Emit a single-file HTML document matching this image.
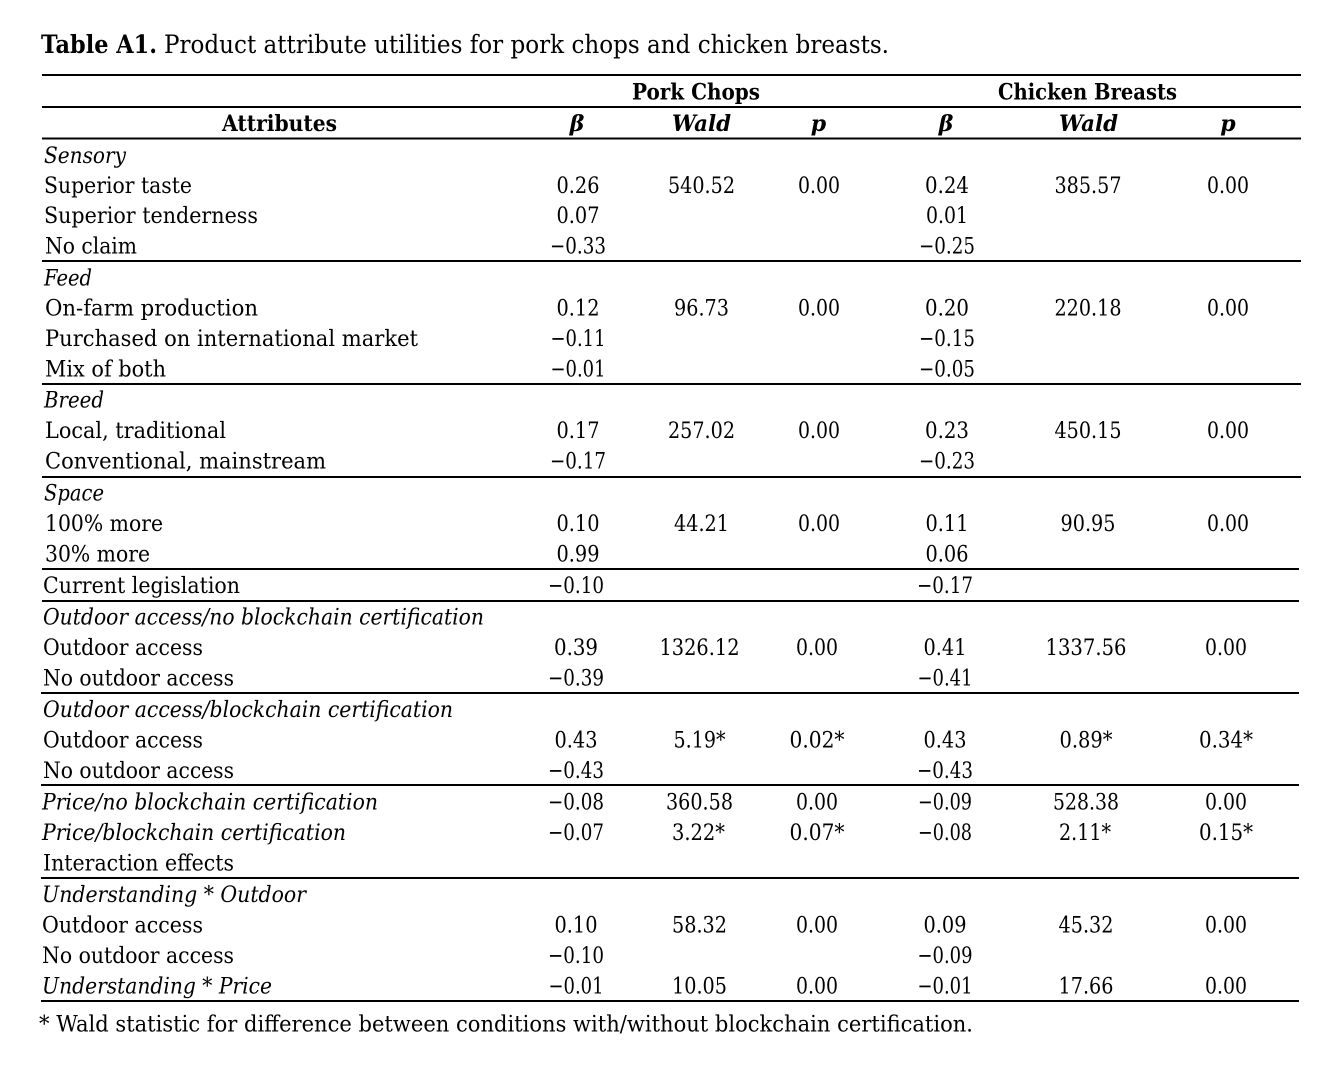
<!DOCTYPE html>
<html><head><meta charset="utf-8"><style>
html,body{margin:0;padding:0;background:#fff;}
svg{display:block;}
text{font-family:"DejaVu Serif","Liberation Serif",serif;fill:#000;}
.b{font-size:22.5px;}
.i{font-size:22.5px;font-style:italic;}
.n{font-size:22.5px;text-anchor:middle;}
.h{font-size:22px;font-weight:bold;text-anchor:middle;}
.hi{font-size:22px;font-weight:bold;font-style:italic;text-anchor:middle;}
</style></head><body>
<svg width="1342" height="1074" viewBox="0 0 1342 1074" xmlns="http://www.w3.org/2000/svg">
<rect width="1342" height="1074" fill="#fff"/>
<text x="41" y="53" style="font-size:25.5px;font-weight:bold" textLength="116" lengthAdjust="spacingAndGlyphs">Table A1.</text>
<text x="164" y="53" style="font-size:25.5px" textLength="725" lengthAdjust="spacingAndGlyphs">Product attribute utilities for pork chops and chicken breasts.</text>
<g fill="#000">
<rect x="42" y="74" width="1259" height="2"/>
<rect x="42" y="106" width="1259" height="2"/>
<rect x="42" y="137.5" width="1259" height="2"/>
<rect x="42" y="260" width="1259" height="2"/>
<rect x="42" y="383" width="1259" height="2"/>
<rect x="42" y="476" width="1259" height="2"/>
<rect x="42" y="568" width="1257" height="2"/>
<rect x="42" y="600" width="1257" height="2"/>
<rect x="41" y="692" width="1258" height="2"/>
<rect x="41" y="784" width="1258" height="2"/>
<rect x="41" y="877" width="1258" height="2"/>
<rect x="41" y="1000" width="1258" height="2"/>
</g>
<text class="h" x="696" y="99.5" textLength="128" lengthAdjust="spacingAndGlyphs">Pork Chops</text>
<text class="h" x="1087.5" y="99.5" textLength="179" lengthAdjust="spacingAndGlyphs">Chicken Breasts</text>
<text class="h" x="279.5" y="131" textLength="115" lengthAdjust="spacingAndGlyphs">Attributes</text>
<text class="hi" x="577" y="131">β</text>
<text class="hi" x="701.5" y="131" textLength="59" lengthAdjust="spacingAndGlyphs">Wald</text>
<text class="hi" x="818.5" y="131">p</text>
<text class="hi" x="946" y="131">β</text>
<text class="hi" x="1088.5" y="131" textLength="59" lengthAdjust="spacingAndGlyphs">Wald</text>
<text class="hi" x="1228" y="131">p</text>

<!-- labels -->
<text class="i" x="44" y="163" textLength="82" lengthAdjust="spacingAndGlyphs">Sensory</text>
<text class="b" x="44" y="193" textLength="148" lengthAdjust="spacingAndGlyphs">Superior taste</text>
<text class="b" x="44" y="223" textLength="214" lengthAdjust="spacingAndGlyphs">Superior tenderness</text>
<text class="b" x="45" y="253.5" textLength="92" lengthAdjust="spacingAndGlyphs">No claim</text>
<text class="i" x="44" y="285.5" textLength="48" lengthAdjust="spacingAndGlyphs">Feed</text>
<text class="b" x="45" y="315.5" textLength="213" lengthAdjust="spacingAndGlyphs">On-farm production</text>
<text class="b" x="45" y="346" textLength="373" lengthAdjust="spacingAndGlyphs">Purchased on international market</text>
<text class="b" x="45" y="376.5" textLength="121" lengthAdjust="spacingAndGlyphs">Mix of both</text>
<text class="i" x="44" y="407.5" textLength="60" lengthAdjust="spacingAndGlyphs">Breed</text>
<text class="b" x="45" y="438" textLength="181" lengthAdjust="spacingAndGlyphs">Local, traditional</text>
<text class="b" x="45" y="468.5" textLength="281" lengthAdjust="spacingAndGlyphs">Conventional, mainstream</text>
<text class="i" x="44" y="500.5" textLength="60" lengthAdjust="spacingAndGlyphs">Space</text>
<text class="b" x="45" y="531" textLength="118" lengthAdjust="spacingAndGlyphs">100% more</text>
<text class="b" x="45" y="561.5" textLength="105" lengthAdjust="spacingAndGlyphs">30% more</text>
<text class="b" x="43" y="593" textLength="197" lengthAdjust="spacingAndGlyphs">Current legislation</text>
<text class="i" x="43" y="624.5" textLength="441" lengthAdjust="spacingAndGlyphs">Outdoor access/no blockchain certification</text>
<text class="b" x="43" y="655" textLength="160" lengthAdjust="spacingAndGlyphs">Outdoor access</text>
<text class="b" x="43" y="685.5" textLength="191" lengthAdjust="spacingAndGlyphs">No outdoor access</text>
<text class="i" x="43" y="717" textLength="410" lengthAdjust="spacingAndGlyphs">Outdoor access/blockchain certification</text>
<text class="b" x="43" y="747.5" textLength="160" lengthAdjust="spacingAndGlyphs">Outdoor access</text>
<text class="b" x="43" y="778" textLength="191" lengthAdjust="spacingAndGlyphs">No outdoor access</text>
<text class="i" x="42" y="809.5" textLength="336" lengthAdjust="spacingAndGlyphs">Price/no blockchain certification</text>
<text class="i" x="42" y="840" textLength="304" lengthAdjust="spacingAndGlyphs">Price/blockchain certification</text>
<text class="b" x="43" y="870.5" textLength="191" lengthAdjust="spacingAndGlyphs">Interaction effects</text>
<text class="i" x="42" y="902" textLength="264" lengthAdjust="spacingAndGlyphs">Understanding * Outdoor</text>
<text class="b" x="42" y="932.5" textLength="161" lengthAdjust="spacingAndGlyphs">Outdoor access</text>
<text class="b" x="42" y="963" textLength="192" lengthAdjust="spacingAndGlyphs">No outdoor access</text>
<text class="i" x="42" y="993.5" textLength="230" lengthAdjust="spacingAndGlyphs">Understanding * Price</text>
<text class="b" x="39" y="1031.5" textLength="934" lengthAdjust="spacingAndGlyphs">* Wald statistic for difference between conditions with/without blockchain certification.</text>

<!-- numbers upper -->
<g>
<text class="n" x="578" y="193" textLength="43" lengthAdjust="spacingAndGlyphs">0.26</text>
<text class="n" x="701.5" y="193" textLength="67" lengthAdjust="spacingAndGlyphs">540.52</text>
<text class="n" x="819" y="193" textLength="42" lengthAdjust="spacingAndGlyphs">0.00</text>
<text class="n" x="947" y="193" textLength="44" lengthAdjust="spacingAndGlyphs">0.24</text>
<text class="n" x="1088" y="193" textLength="67" lengthAdjust="spacingAndGlyphs">385.57</text>
<text class="n" x="1228" y="193" textLength="42" lengthAdjust="spacingAndGlyphs">0.00</text>

<text class="n" x="578" y="223" textLength="43" lengthAdjust="spacingAndGlyphs">0.07</text>
<text class="n" x="947" y="223" textLength="42" lengthAdjust="spacingAndGlyphs">0.01</text>
<text class="n" x="578" y="253.5" textLength="56" lengthAdjust="spacingAndGlyphs">−0.33</text>
<text class="n" x="947" y="253.5" textLength="56" lengthAdjust="spacingAndGlyphs">−0.25</text>

<text class="n" x="578" y="315.5" textLength="43" lengthAdjust="spacingAndGlyphs">0.12</text>
<text class="n" x="701.5" y="315.5" textLength="55" lengthAdjust="spacingAndGlyphs">96.73</text>
<text class="n" x="819" y="315.5" textLength="42" lengthAdjust="spacingAndGlyphs">0.00</text>
<text class="n" x="947" y="315.5" textLength="44" lengthAdjust="spacingAndGlyphs">0.20</text>
<text class="n" x="1088" y="315.5" textLength="67" lengthAdjust="spacingAndGlyphs">220.18</text>
<text class="n" x="1228" y="315.5" textLength="42" lengthAdjust="spacingAndGlyphs">0.00</text>
<text class="n" x="578" y="346" textLength="55" lengthAdjust="spacingAndGlyphs">−0.11</text>
<text class="n" x="947" y="346" textLength="56" lengthAdjust="spacingAndGlyphs">−0.15</text>
<text class="n" x="578" y="376.5" textLength="55" lengthAdjust="spacingAndGlyphs">−0.01</text>
<text class="n" x="947" y="376.5" textLength="56" lengthAdjust="spacingAndGlyphs">−0.05</text>

<text class="n" x="578" y="438" textLength="43" lengthAdjust="spacingAndGlyphs">0.17</text>
<text class="n" x="701.5" y="438" textLength="67" lengthAdjust="spacingAndGlyphs">257.02</text>
<text class="n" x="819" y="438" textLength="42" lengthAdjust="spacingAndGlyphs">0.00</text>
<text class="n" x="947" y="438" textLength="44" lengthAdjust="spacingAndGlyphs">0.23</text>
<text class="n" x="1088" y="438" textLength="67" lengthAdjust="spacingAndGlyphs">450.15</text>
<text class="n" x="1228" y="438" textLength="42" lengthAdjust="spacingAndGlyphs">0.00</text>
<text class="n" x="578" y="468.5" textLength="56" lengthAdjust="spacingAndGlyphs">−0.17</text>
<text class="n" x="947" y="468.5" textLength="56" lengthAdjust="spacingAndGlyphs">−0.23</text>

<text class="n" x="578" y="531" textLength="43" lengthAdjust="spacingAndGlyphs">0.10</text>
<text class="n" x="701.5" y="531" textLength="55" lengthAdjust="spacingAndGlyphs">44.21</text>
<text class="n" x="819" y="531" textLength="42" lengthAdjust="spacingAndGlyphs">0.00</text>
<text class="n" x="947" y="531" textLength="43" lengthAdjust="spacingAndGlyphs">0.11</text>
<text class="n" x="1088" y="531" textLength="55" lengthAdjust="spacingAndGlyphs">90.95</text>
<text class="n" x="1228" y="531" textLength="42" lengthAdjust="spacingAndGlyphs">0.00</text>
<text class="n" x="578" y="561.5" textLength="43" lengthAdjust="spacingAndGlyphs">0.99</text>
<text class="n" x="947" y="561.5" textLength="43" lengthAdjust="spacingAndGlyphs">0.06</text>
</g>
<!-- numbers lower -->
<g>
<text class="n" x="576" y="593" textLength="56" lengthAdjust="spacingAndGlyphs">−0.10</text>
<text class="n" x="945" y="593" textLength="56" lengthAdjust="spacingAndGlyphs">−0.17</text>

<text class="n" x="576" y="655" textLength="44" lengthAdjust="spacingAndGlyphs">0.39</text>
<text class="n" x="699.5" y="655" textLength="80" lengthAdjust="spacingAndGlyphs">1326.12</text>
<text class="n" x="817" y="655" textLength="42" lengthAdjust="spacingAndGlyphs">0.00</text>
<text class="n" x="945" y="655" textLength="43" lengthAdjust="spacingAndGlyphs">0.41</text>
<text class="n" x="1086" y="655" textLength="81" lengthAdjust="spacingAndGlyphs">1337.56</text>
<text class="n" x="1226" y="655" textLength="42" lengthAdjust="spacingAndGlyphs">0.00</text>
<text class="n" x="576" y="685.5" textLength="56" lengthAdjust="spacingAndGlyphs">−0.39</text>
<text class="n" x="945" y="685.5" textLength="55" lengthAdjust="spacingAndGlyphs">−0.41</text>

<text class="n" x="576" y="747.5" textLength="43" lengthAdjust="spacingAndGlyphs">0.43</text>
<text class="n" x="699.5" y="747.5" textLength="52" lengthAdjust="spacingAndGlyphs">5.19*</text>
<text class="n" x="817" y="747.5" textLength="55" lengthAdjust="spacingAndGlyphs">0.02*</text>
<text class="n" x="945" y="747.5" textLength="43" lengthAdjust="spacingAndGlyphs">0.43</text>
<text class="n" x="1086" y="747.5" textLength="53" lengthAdjust="spacingAndGlyphs">0.89*</text>
<text class="n" x="1226" y="747.5" textLength="54" lengthAdjust="spacingAndGlyphs">0.34*</text>
<text class="n" x="576" y="778" textLength="56" lengthAdjust="spacingAndGlyphs">−0.43</text>
<text class="n" x="945" y="778" textLength="56" lengthAdjust="spacingAndGlyphs">−0.43</text>

<text class="n" x="576" y="809.5" textLength="56" lengthAdjust="spacingAndGlyphs">−0.08</text>
<text class="n" x="699.5" y="809.5" textLength="67" lengthAdjust="spacingAndGlyphs">360.58</text>
<text class="n" x="817" y="809.5" textLength="42" lengthAdjust="spacingAndGlyphs">0.00</text>
<text class="n" x="945" y="809.5" textLength="54" lengthAdjust="spacingAndGlyphs">−0.09</text>
<text class="n" x="1086" y="809.5" textLength="66" lengthAdjust="spacingAndGlyphs">528.38</text>
<text class="n" x="1226" y="809.5" textLength="42" lengthAdjust="spacingAndGlyphs">0.00</text>
<text class="n" x="576" y="840" textLength="56" lengthAdjust="spacingAndGlyphs">−0.07</text>
<text class="n" x="698.5" y="840" textLength="53" lengthAdjust="spacingAndGlyphs">3.22*</text>
<text class="n" x="817" y="840" textLength="55" lengthAdjust="spacingAndGlyphs">0.07*</text>
<text class="n" x="945" y="840" textLength="54" lengthAdjust="spacingAndGlyphs">−0.08</text>
<text class="n" x="1085" y="840" textLength="52" lengthAdjust="spacingAndGlyphs">2.11*</text>
<text class="n" x="1226" y="840" textLength="54" lengthAdjust="spacingAndGlyphs">0.15*</text>

<text class="n" x="576" y="932.5" textLength="43" lengthAdjust="spacingAndGlyphs">0.10</text>
<text class="n" x="699.5" y="932.5" textLength="55" lengthAdjust="spacingAndGlyphs">58.32</text>
<text class="n" x="817" y="932.5" textLength="42" lengthAdjust="spacingAndGlyphs">0.00</text>
<text class="n" x="945" y="932.5" textLength="43" lengthAdjust="spacingAndGlyphs">0.09</text>
<text class="n" x="1086" y="932.5" textLength="55" lengthAdjust="spacingAndGlyphs">45.32</text>
<text class="n" x="1226" y="932.5" textLength="42" lengthAdjust="spacingAndGlyphs">0.00</text>
<text class="n" x="576" y="963" textLength="56" lengthAdjust="spacingAndGlyphs">−0.10</text>
<text class="n" x="945" y="963" textLength="55" lengthAdjust="spacingAndGlyphs">−0.09</text>
<text class="n" x="576" y="993.5" textLength="55" lengthAdjust="spacingAndGlyphs">−0.01</text>
<text class="n" x="699.5" y="993.5" textLength="55" lengthAdjust="spacingAndGlyphs">10.05</text>
<text class="n" x="817" y="993.5" textLength="42" lengthAdjust="spacingAndGlyphs">0.00</text>
<text class="n" x="945" y="993.5" textLength="55" lengthAdjust="spacingAndGlyphs">−0.01</text>
<text class="n" x="1086" y="993.5" textLength="55" lengthAdjust="spacingAndGlyphs">17.66</text>
<text class="n" x="1226" y="993.5" textLength="42" lengthAdjust="spacingAndGlyphs">0.00</text>
</g>
</svg>
</body></html>
